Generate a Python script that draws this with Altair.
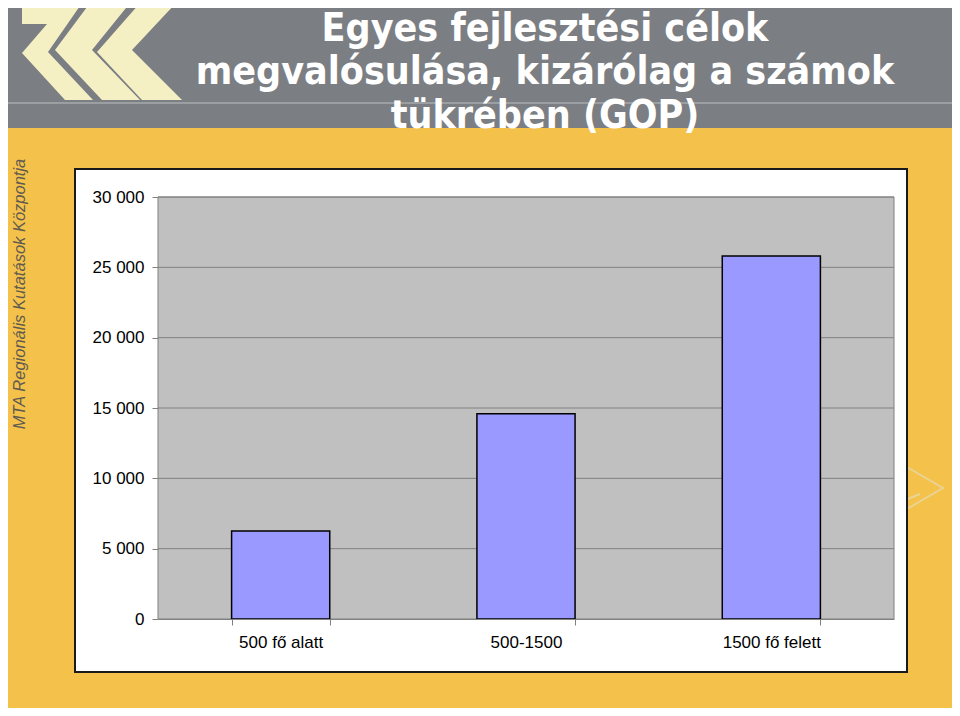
import altair as alt
import pandas as pd

categories = ["500 fő alatt", "500-1500", "1500 fő felett"]
values = [6250, 14600, 25800]
yticks = [0, 5000, 10000, 15000, 20000, 25000, 30000]
title_lines = ["Egyes fejlesztési célok", "megvalósulása, kizárólag a számok", "tükrében (GOP)"]
side_text = "MTA Regionális Kutatások Központja"

W, H = 736, 422
FONT = "Liberation Sans"

bars_df = pd.DataFrame({"cat": categories, "val": values})
grid_df = pd.DataFrame({"val": yticks[1:]})
one = pd.DataFrame({"a": [0]})

xscale = alt.Scale(domain=categories, paddingInner=0.6, paddingOuter=0.3)
yscale = alt.Scale(domain=[0, 30000], nice=False)

yaxis = alt.Axis(values=yticks, labelFont=FONT, labelFontSize=17, labelColor="black",
                 labelPadding=8, tickSize=6, tickColor="#808080", domain=False,
                 grid=False, zindex=1,
                 labelExpr="replace(format(datum.value, ','), ',', ' ')")

# page -> plot offsets (plot origin at page (158,197))
OX, OY = 158, 197

header = alt.Chart(one).mark_rect(color="#7b7e82").encode(
    x=alt.value(0 - OX), x2=alt.value(960 - OX), y=alt.value(0 - OY), y2=alt.value(128 - OY))
header_line = alt.Chart(one).mark_rect(color="#9c9fa2").encode(
    x=alt.value(0 - OX), x2=alt.value(960 - OX), y=alt.value(102 - OY), y2=alt.value(104 - OY))

logo_path = ("M22,3 L82,3 L48,52 L93,100 L65,100 L22,53 L47,24 L22,24 Z "
             "M90,3 L130,3 L92,50 L140,100 L102,100 L55,50 Z "
             "M140,3 L176,3 L132,50 L182,100 L142,100 L97,52 Z")
logo = alt.Chart(one).mark_point(shape=logo_path, size=4, filled=True, fill="#f5f0c4",
                                 opacity=1, strokeWidth=0).encode(
    x=alt.value(0 - OX), y=alt.value(0 - OY))

title_layers = []
for line, yy in zip(title_lines, [29, 72, 116]):
    title_layers.append(
        alt.Chart(one).mark_text(text=line, font="DejaVu Sans Condensed", fontWeight="bold",
                                 fontSize=39, color="white", align="center", baseline="middle").encode(
            x=alt.value(545 - OX), y=alt.value(yy - OY)))

side = alt.Chart(one).mark_text(text=side_text, font=FONT, fontStyle="italic", fontSize=16.5,
                                color="#5f5a50", angle=270, align="center", baseline="middle").encode(
    x=alt.value(20 - OX), y=alt.value(294 - OY))

faint = alt.Chart(one).mark_point(shape="M905,466 L943,488 L905,510 M905,500 L920,494",
                                  size=4, filled=False, stroke="#e8d8a8", strokeWidth=2,
                                  opacity=0.8).encode(
    x=alt.value(0 - OX), y=alt.value(0 - OY))

white_box = alt.Chart(one).mark_rect(fill="white", stroke="#1a1a1a", strokeWidth=2).encode(
    x=alt.value(75 - OX), x2=alt.value(907 - OX), y=alt.value(169 - OY), y2=alt.value(672 - OY))

plot_bg = alt.Chart(one).mark_rect(fill="#c0c0c0", stroke="#808080", strokeWidth=1).encode(
    x=alt.value(0), x2=alt.value(W), y=alt.value(0), y2=alt.value(H))

grid = alt.Chart(grid_df).mark_rule(color="#808080", strokeWidth=1).encode(
    y=alt.Y("val:Q", scale=yscale, title=None, axis=yaxis),
    x=alt.value(0), x2=alt.value(W))

bars = alt.Chart(bars_df).mark_bar(fill="#9999ff", stroke="black", strokeWidth=1.5).encode(
    x=alt.X("cat:N", scale=xscale, sort=categories, title=None,
            axis=alt.Axis(labelAngle=0, labelFont=FONT, labelFontSize=17, labelColor="black",
                          labelPadding=9, tickSize=6, tickColor="#808080", tickBand="extent",
                          domain=True, domainColor="#808080", grid=False, zindex=1)),
    y=alt.Y("val:Q", scale=yscale, title=None, axis=yaxis),
)

chart = alt.layer(header, header_line, logo, *title_layers, side, faint, white_box, plot_bg,
                  grid, bars).properties(
    width=W, height=H,
    autosize=alt.AutoSizeParams(type="none"),
    padding={"left": 150, "top": 189, "right": 58, "bottom": 89},
    background="#f4c24a",
).configure_view(stroke=None, fill=None)

chart.save("out.html", embed_options={"renderer": "svg", "actions": False})
